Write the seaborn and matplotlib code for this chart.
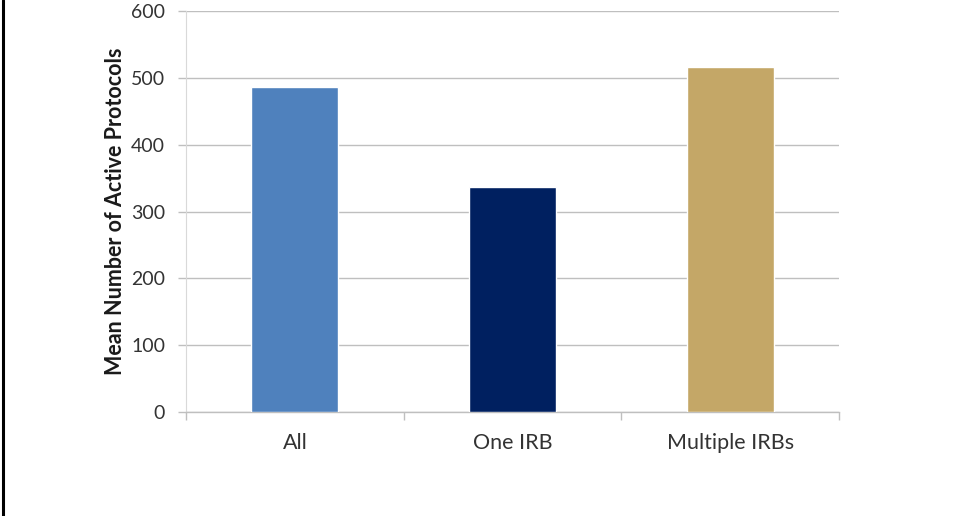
import matplotlib
matplotlib.use("Agg")
import matplotlib.pyplot as plt
from matplotlib.lines import Line2D
from matplotlib.ticker import FixedLocator
import seaborn as sns
import pandas as pd

categories = ["All", "One IRB", "Multiple IRBs"]
mean_protocols = [486, 337, 517]
bar_colors = ["#4F81BD", "#002060", "#C4A767"]
y_ticks = [0, 100, 200, 300, 400, 500, 600]

sns.set_theme(style="white")
plt.rcParams["font.family"] = ["Lato", "DejaVu Sans"]

df = pd.DataFrame({"group": categories, "mean": mean_protocols})

fig = plt.figure(figsize=(9.56, 5.16), dpi=100)
ax = fig.add_axes([0.1946, 0.2021, 0.6830, 0.7760])

sns.barplot(data=df, x="group", y="mean", hue="group", palette=bar_colors,
            width=0.4, saturation=1, legend=False, ax=ax, zorder=3)

grid_c = "#BFBFBF"
ax.set_ylim(0, 600)
ax.set_xlim(-0.5, 2.5)
ax.set_yticks(y_ticks)
ax.yaxis.grid(True, color=grid_c, linewidth=1.0, zorder=0)
ax.set_axisbelow(True)

for side in ["top", "right"]:
    ax.spines[side].set_visible(False)
ax.spines["left"].set_color("#D9D9D9")
ax.spines["left"].set_linewidth(0.8)
ax.spines["bottom"].set_color(grid_c)
ax.spines["bottom"].set_linewidth(1.0)

ax.tick_params(axis="y", length=6, width=1.0, color=grid_c, pad=9,
               labelsize=14, labelcolor="#333333", left=True)
ax.tick_params(axis="x", which="major", length=0, pad=15,
               labelsize=15.5, labelcolor="#333333")
ax.xaxis.set_minor_locator(FixedLocator([-0.5, 0.5, 1.5, 2.5]))
ax.tick_params(axis="x", which="minor", bottom=True, length=6, width=1.0,
               color=grid_c)

ax.set_xlabel("")
ax.set_ylabel("Mean Number of Active Protocols", fontsize=15.5,
              fontweight="bold", color="#1a1a1a", labelpad=4)

# frame line along the left edge
fig.add_artist(Line2D([0.0028, 0.0028], [0, 1], transform=fig.transFigure,
                      color="black", linewidth=2.2))

fig.savefig("out.png", dpi=100, facecolor="white")
